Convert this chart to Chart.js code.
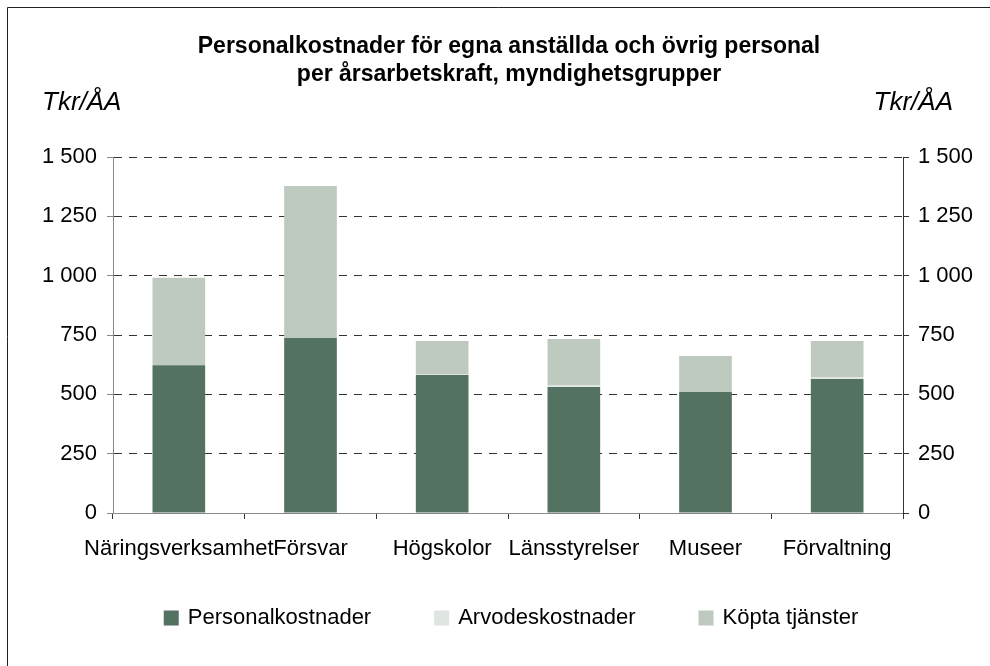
<!DOCTYPE html>
<html>
<head>
<meta charset="utf-8">
<script src="https://cdn.jsdelivr.net/npm/chart.js@4/dist/chart.umd.min.js"></script>
<style>
  html, body { margin: 0; padding: 0; background: #ffffff; }
  #wrap { position: relative; width: 990px; height: 666px; }
</style>
</head>
<body>
<div id="wrap"><canvas id="c" width="990" height="666"></canvas></div>
<script>
const titleLines = ['Personalkostnader för egna anställda och övrig personal', 'per årsarbetskraft, myndighetsgrupper'];
const unitLabel = 'Tkr/ÅA';
const categories = ['Näringsverksamhet', 'Försvar', 'Högskolor', 'Länsstyrelser', 'Museer', 'Förvaltning'];
const seriesNames = ['Personalkostnader', 'Arvodeskostnader', 'Köpta tjänster'];
const personalkostnader = [623, 737, 581, 531, 510, 565];
const arvodeskostnader = [0, 0, 5, 8, 0, 8];
const koptaTjanster = [368, 641, 139, 194, 151, 152];
const yMin = 0, yMax = 1500, yStep = 250;

const FONT = '"Liberation Sans", Arial, Helvetica, sans-serif';
const fmt = v => String(v).replace(/\B(?=(\d{3})+(?!\d))/g, ' ');

const decor = {
  id: 'decor',
  beforeDraw(chart) {
    const ctx = chart.ctx;
    ctx.save();
    ctx.fillStyle = '#ffffff';
    ctx.fillRect(0, 0, chart.width, chart.height);
    ctx.restore();
  },
  afterDraw(chart) {
    const ctx = chart.ctx;
    ctx.save();
    // frame
    ctx.strokeStyle = '#222222';
    ctx.lineWidth = 1;
    ctx.beginPath();
    ctx.moveTo(7.5, chart.height);
    ctx.lineTo(7.5, 7.5);
    ctx.lineTo(chart.width, 7.5);
    ctx.stroke();
    // unit labels
    ctx.fillStyle = '#000000';
    ctx.font = 'italic 26px ' + FONT;
    ctx.textBaseline = 'middle';
    ctx.textAlign = 'left';
    ctx.fillText(unitLabel, 42, 103);
    ctx.textAlign = 'right';
    ctx.fillText(unitLabel, 953, 103);
    // legend
    const ds = chart.data.datasets;
    const box = 15, gapBT = 9, gapItem = 63, cy = 618;
    ctx.font = '22px ' + FONT;
    const widths = ds.map(d => ctx.measureText(d.label).width);
    let total = widths.reduce((a, w) => a + box + gapBT + w, 0) + gapItem * (ds.length - 1);
    let x = 511 - total / 2;
    ctx.textAlign = 'left';
    ctx.textBaseline = 'middle';
    ds.forEach((d, i) => {
      ctx.fillStyle = d.backgroundColor;
      ctx.fillRect(x, cy - box / 2, box, box);
      ctx.fillStyle = '#000000';
      ctx.fillText(d.label, x + box + gapBT, cy);
      x += box + gapBT + widths[i] + gapItem;
    });
    ctx.restore();
  }
};

new Chart(document.getElementById('c'), {
  type: 'bar',
  data: {
    labels: categories,
    datasets: [
      { label: seriesNames[0], data: personalkostnader, backgroundColor: '#537261', borderWidth: 0 },
      { label: seriesNames[1], data: arvodeskostnader, backgroundColor: '#dfe5e1', borderWidth: 0 },
      { label: seriesNames[2], data: koptaTjanster, backgroundColor: '#bec9c0', borderWidth: 0 }
    ]
  },
  options: {
    responsive: false,
    animation: false,
    devicePixelRatio: 1,
    layout: { padding: { left: 28, right: 0, top: 0, bottom: 93 } },
    datasets: { bar: { categoryPercentage: 0.8, barPercentage: 0.5 } },
    plugins: {
      tooltip: { enabled: false },
      legend: { display: false },
      title: {
        display: true,
        text: titleLines,
        color: '#000000',
        font: { family: FONT, size: 23, weight: 'bold', lineHeight: 1.2 },
        padding: { top: 33, bottom: 68.8 }
      }
    },
    scales: {
      x: {
        stacked: true,
        grid: { display: true, drawOnChartArea: false, drawTicks: true, offset: true, tickLength: 6, tickColor: '#333333' },
        border: { display: true, color: '#888888', width: 1 },
        ticks: { color: '#000000', font: { family: FONT, size: 22 }, padding: 17, autoSkip: false, maxRotation: 0, minRotation: 0 },
        afterFit(s) { s.height = 60; }
      },
      y: {
        stacked: true,
        position: 'left',
        min: yMin, max: yMax,
        grid: {
          color: c => (c.tick && c.tick.value === 0) ? 'rgba(0,0,0,0)' : '#333333',
          lineWidth: 1,
          drawTicks: true,
          tickLength: 6,
          tickColor: '#888888'
        },
        border: { display: true, color: '#888888', width: 1, dash: [8, 7] },
        ticks: { stepSize: yStep, color: '#000000', font: { family: FONT, size: 22 }, padding: 10, callback: v => fmt(v) },
        afterFit(s) { s.width = 85; }
      },
      y2: {
        position: 'right',
        min: yMin, max: yMax,
        grid: { drawOnChartArea: false, drawTicks: true, tickLength: 6, tickColor: '#333333' },
        border: { display: true, color: '#333333', width: 1 },
        ticks: { stepSize: yStep, color: '#000000', font: { family: FONT, size: 22 }, padding: 9, callback: v => fmt(v) },
        afterFit(s) { s.width = 87; }
      }
    }
  },
  plugins: [decor]
});
</script>
</body>
</html>
